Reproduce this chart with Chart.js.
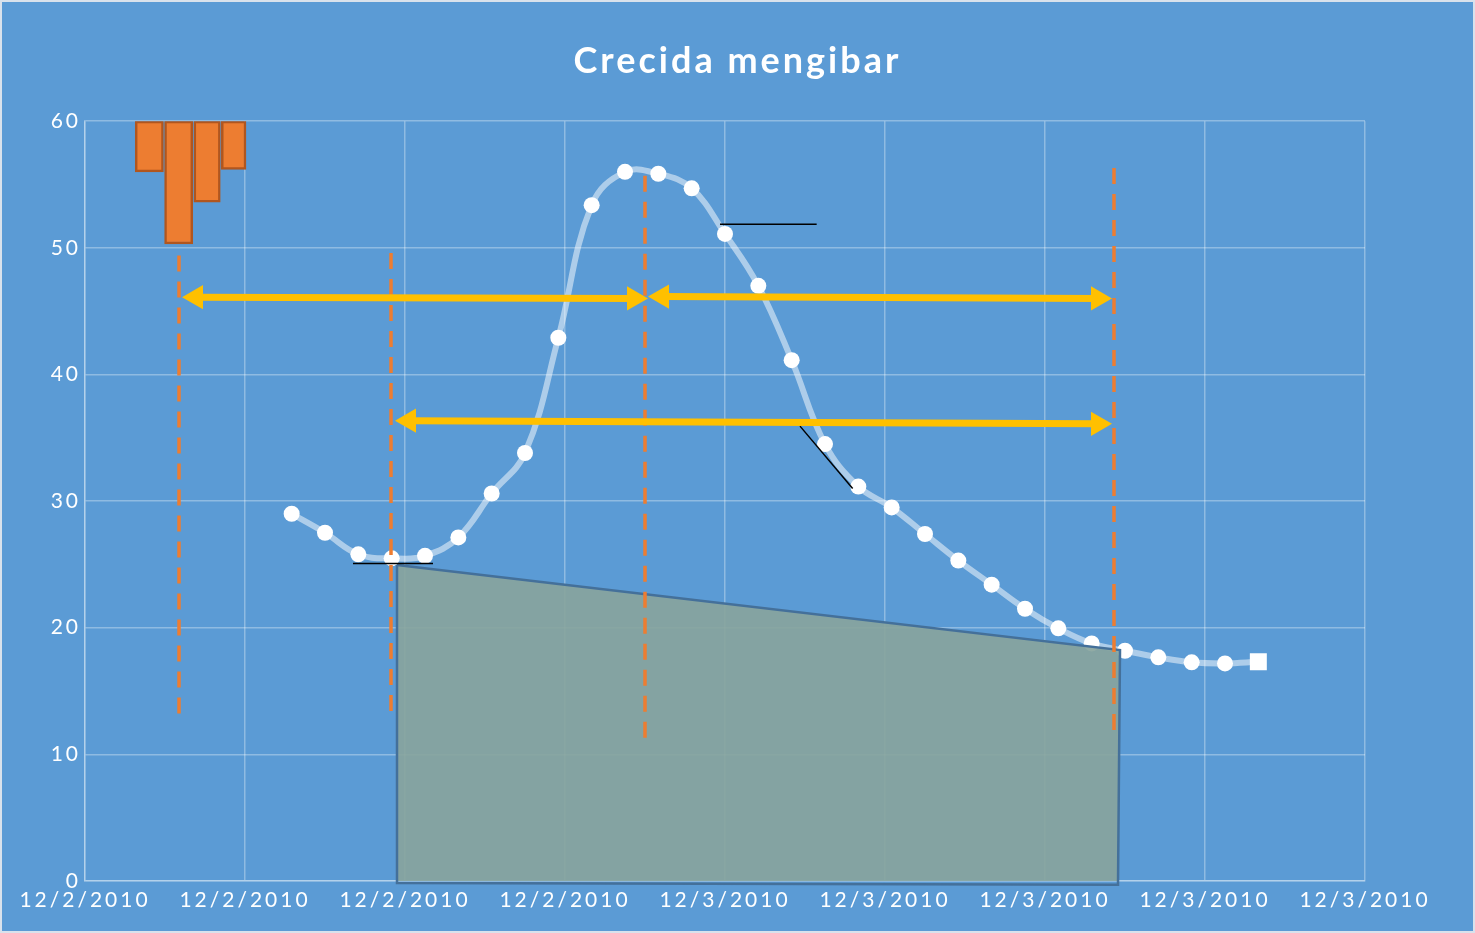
<!DOCTYPE html>
<html><head><meta charset="utf-8">
<script src="https://cdn.jsdelivr.net/npm/chart.js@4/dist/chart.umd.min.js"></script>
<style>html,body{margin:0;padding:0;background:#5B9BD5;}canvas{display:block;}</style>
</head><body>
<canvas id="c" width="1475" height="933"></canvas>
<script>
const titleText = 'Crecida mengibar';
const xTickValues = [4.8, 9.6, 14.4, 19.2, 24, 28.8, 33.6, 38.4, 43.2];
const xTickLabels = ['12/2/2010','12/2/2010','12/2/2010','12/2/2010','12/3/2010','12/3/2010','12/3/2010','12/3/2010','12/3/2010'];
const hours = [11,12,13,14,15,16,17,18,19,20,21,22,23,24,25,26,27,28,29,30,31,32,33,34,35,36,37,38,39,40];
const levels = [29.0,27.5,25.8,25.48,25.68,27.13,30.6,33.8,42.9,53.37,56.0,55.85,54.7,51.1,47.0,41.13,34.5,31.15,29.5,27.4,25.3,23.4,21.5,19.95,18.76,18.18,17.66,17.27,17.18,17.31];
const rainHours = [6.73, 7.61, 8.49, 9.26];
const rainValues = [4.0, 9.7, 6.4, 3.8];
const markerHours = [7.62, 13.98, 21.6, 35.67];
const markerTop = [49.4, 49.6, 55.7, 56.3];
const markerBottom = [12.7, 12.7, 11.1, 11.9];
const arrowStartHours = [8.13, 22.11, 14.52];
const arrowEndHours = [21.27, 35.19, 35.19];
const arrowStartLevels = [46.1, 46.15, 36.35];
const arrowEndLevels = [46.0, 46.0, 36.1];
const baseflowHours = [14.16, 35.85, 35.79, 14.16, 14.16];
const baseflowLevels = [24.95, 18.24, -0.3, -0.15, 24.95];
const guideStartHours = [12.84, 23.85, 26.25];
const guideEndHours = [15.24, 26.75, 27.83];
const guideStartLevels = [25.07, 51.87, 35.92];
const guideEndLevels = [25.07, 51.87, 30.99];

const FONT = 'Lato, "Open Sans", sans-serif';
const GRID = 'rgba(255,255,255,0.32)';
const datasets = [];

arrowStartHours.forEach((h, i) => {
  datasets.push({
    type: 'line', order: 1,
    data: [{x: h, y: arrowStartLevels[i]}, {x: arrowEndHours[i], y: arrowEndLevels[i]}],
    borderColor: '#FFC000', borderWidth: 7, tension: 0,
    pointStyle: 'triangle', pointRadius: 14, pointHoverRadius: 14,
    pointRotation: [270, 90], pointBackgroundColor: '#FFC000', pointBorderWidth: 0,
    clip: false
  });
});
guideStartHours.forEach((h, i) => {
  datasets.push({
    type: 'line', order: 2,
    data: [{x: h, y: guideStartLevels[i]}, {x: guideEndHours[i], y: guideEndLevels[i]}],
    borderColor: '#000000', borderWidth: 1.5, pointRadius: 0, tension: 0
  });
});
markerHours.forEach((h, i) => {
  datasets.push({
    type: 'line', order: 3,
    data: [{x: h, y: markerTop[i]}, {x: h, y: markerBottom[i]}],
    borderColor: '#ED7D31', borderWidth: 3.5, borderDash: [16, 10], pointRadius: 0, tension: 0
  });
});
datasets.push({
  type: 'line', order: 5,
  data: baseflowHours.map((h, i) => ({x: h, y: baseflowLevels[i]})),
  borderColor: '#44709A', borderWidth: 2.5, backgroundColor: 'rgba(136,164,157,0.92)',
  fill: 'shape', pointRadius: 0, tension: 0, clip: false
});
datasets.push({
  type: 'line', order: 6,
  data: hours.map((h, i) => ({x: h, y: levels[i]})),
  borderColor: 'rgba(255,255,255,0.5)', borderWidth: 6, tension: 0.4,
  pointStyle: ctx => ctx.dataIndex === hours.length - 1 ? 'rect' : 'circle',
  pointRadius: ctx => ctx.dataIndex === hours.length - 1 ? 12 : 8,
  pointBackgroundColor: '#FFFFFF', pointBorderWidth: 0
});
datasets.push({
  type: 'bar', order: 7, yAxisID: 'y2',
  data: rainHours.map((h, i) => ({x: h, y: rainValues[i]})),
  backgroundColor: '#ED7D31', borderColor: '#B0561F', borderWidth: 2.5, borderSkipped: false,
  barThickness: 'flex', barPercentage: 0.96, categoryPercentage: 1
});

const bgPlugin = {
  id: 'bg',
  beforeDraw(chart) {
    const c = chart.ctx;
    c.save();
    c.fillStyle = '#5B9BD5';
    c.fillRect(0, 0, chart.width, chart.height);
    c.strokeStyle = '#D9E2EC';
    c.lineWidth = 2;
    c.strokeRect(1, 1, chart.width - 2, chart.height - 2);
    c.restore();
    c.letterSpacing = '3px';
  }
};

new Chart(document.getElementById('c'), {
  type: 'line',
  data: {datasets},
  plugins: [bgPlugin],
  options: {
    responsive: false, animation: false,
    layout: {padding: 0},
    plugins: {
      legend: {display: false}, tooltip: {enabled: false},
      title: {display: true, text: titleText, color: '#FFFFFF',
        font: {family: FONT, size: 36, weight: 'bold'}, padding: {top: 40, bottom: 38}}
    },
    scales: {
      x: {
        type: 'linear', min: 4.8, max: 43.2, offset: false,
        afterBuildTicks: s => { s.ticks = xTickValues.map(v => ({value: v})); },
        afterFit: s => { s.height = 52; },
        ticks: {callback: (v, i) => xTickLabels[i], color: '#FFFFFF', font: {family: FONT, size: 21},
          maxRotation: 0, autoSkip: false, padding: 7},
        grid: {color: GRID, drawTicks: false, lineWidth: 1.5, offset: false},
        border: {display: true, color: GRID, width: 1.5}
      },
      y: {
        min: 0, max: 60,
        afterFit: s => { s.width = 85; },
        ticks: {stepSize: 10, color: '#FFFFFF', font: {family: FONT, size: 21}, padding: 4},
        grid: {color: GRID, drawTicks: false, lineWidth: 1.5},
        border: {display: true, color: GRID, width: 1.5}
      },
      y2: {
        display: true, position: 'right', reverse: true, min: 0, max: 60,
        afterFit: s => { s.width = 110; },
        ticks: {display: false}, grid: {display: false}, border: {display: false}
      }
    }
  }
});
</script>
</body></html>
